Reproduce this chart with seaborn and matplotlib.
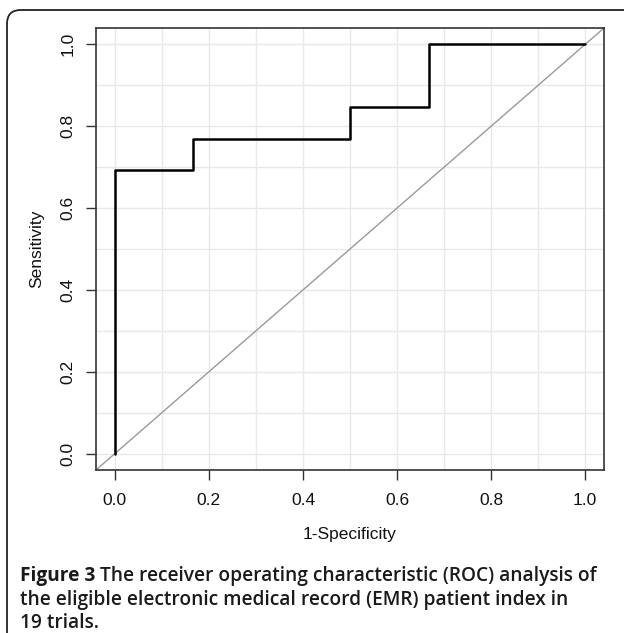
import numpy as np
import pandas as pd
import seaborn as sns
import matplotlib.pyplot as plt
from matplotlib.patches import FancyBboxPatch

# ROC points (1-specificity, sensitivity), 6 negatives / 13 positives
fpr = [0.0, 0.0, 0.167, 0.5, 0.667, 1.0]
tpr = [0.0, 0.692, 0.769, 0.846, 1.0, 1.0]
ticks = [0.0, 0.2, 0.4, 0.6, 0.8, 1.0]
grid_pos = [0.0, 0.1, 0.2, 0.3, 0.4, 0.5, 0.6, 0.7, 0.8, 0.9, 1.0]

caption_bold = "Figure 3"
caption_rest = " The receiver operating characteristic (ROC) analysis of"
caption_lines = ["the eligible electronic medical record (EMR) patient index in",
                 "19 trials."]

df = pd.DataFrame({"fpr": fpr, "tpr": tpr})

sns.set_theme(style="white")
plt.rcParams['font.family'] = ['Liberation Sans', 'DejaVu Sans']

fig = plt.figure(figsize=(6.24, 6.33), dpi=100)
ax = fig.add_axes([96 / 624, 1 - 470 / 633, 508 / 624, 442 / 633])

# rounded frame around the whole figure (right and bottom edges run off the page)
frame = FancyBboxPatch((7 / 624, -0.05), 640 / 624, 1.05 - 10 / 633,
                       boxstyle="round,pad=0,rounding_size=0.022",
                       transform=fig.transFigure, fill=False,
                       edgecolor="#222222", linewidth=1.3, zorder=0)
fig.patches.append(frame)

for g in grid_pos:
    ax.axvline(g, color="#e8e8e8", lw=1.0, zorder=0)
    ax.axhline(g, color="#e8e8e8", lw=1.0, zorder=0)

ax.axline((0, 0), (1, 1), color="#9a9a9a", lw=1.0, zorder=1)
sns.lineplot(data=df, x="fpr", y="tpr", drawstyle="steps-post",
             sort=False, estimator=None, color="black", lw=1.8, ax=ax, zorder=2)

ax.set_xlim(-0.04, 1.04)
ax.set_ylim(-0.04, 1.04)
ax.set_xticks(ticks)
ax.set_yticks(ticks)
ax.set_xticklabels([f"{t:.1f}" for t in ticks], fontsize=12.5, color="#111111")
ax.set_yticklabels([f"{t:.1f}" for t in ticks], fontsize=12.5, color="#111111",
                   rotation=90, va="center")
ax.tick_params(axis="both", direction="out", length=7.5, width=1.0,
               color="#333333", bottom=True, left=True, pad=7)
ax.tick_params(axis="x", pad=9)
for s in ax.spines.values():
    s.set_color("#333333")
    s.set_linewidth(1.2)

ax.set_xlabel("1-Specificity", fontsize=12.5, color="#111111", labelpad=14)
ax.set_ylabel("Sensitivity", fontsize=12.5, color="#111111", labelpad=12)

# caption
cap_font = ['Open Sans', 'DejaVu Sans']
cap_size = 13.8
x0 = 20 / 624
y0 = 1 - 581 / 633
t1 = fig.text(x0, y0, caption_bold, fontsize=cap_size, fontweight="bold",
              family=cap_font, color="#1a1a1a", va="baseline")
fig.canvas.draw()
bb = t1.get_window_extent()
fig.text(bb.x1 / fig.bbox.width, y0, caption_rest, fontsize=cap_size,
         fontweight="semibold", family=cap_font, color="#1a1a1a", va="baseline")
for i, line in enumerate(caption_lines):
    fig.text(x0, y0 - (i + 1) * 23.5 / 633, line, fontsize=cap_size,
             fontweight="semibold", family=cap_font, color="#1a1a1a", va="baseline")

fig.savefig("out.png", dpi=100)
